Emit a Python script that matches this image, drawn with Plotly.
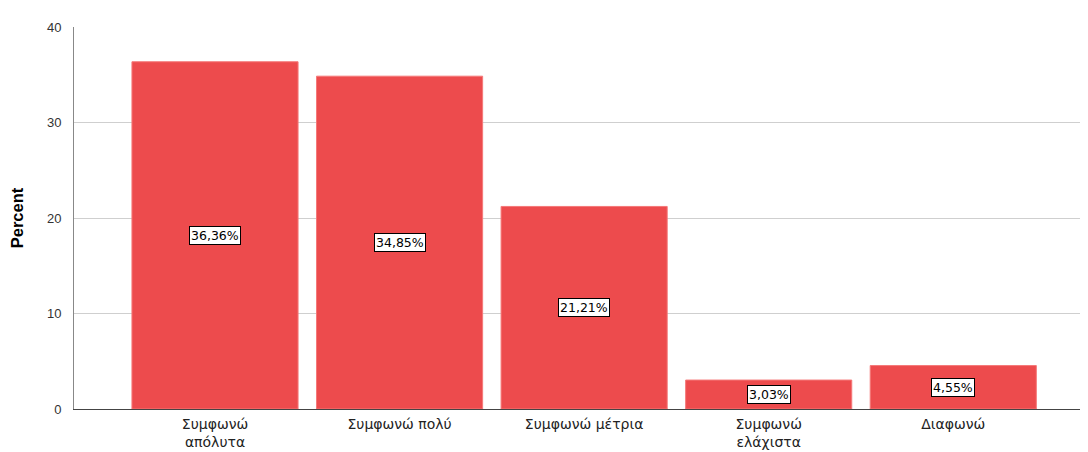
import plotly.graph_objects as go

categories = ["Συμφωνώ<br>απόλυτα", "Συμφωνώ πολύ", "Συμφωνώ μέτρια", "Συμφωνώ<br>ελάχιστα", "Διαφωνώ"]
percent = [36.36, 34.85, 21.21, 3.03, 4.55]
y_ticks = [0, 10, 20, 30, 40]

bar_color = "rgb(237,75,77)"
labels = [f"{v:.2f}".replace(".", ",") + "%" for v in percent]

fig = go.Figure()
fig.add_trace(go.Bar(
    x=list(range(len(categories))), y=percent,
    width=0.9,
    marker=dict(color=bar_color, line=dict(color="rgb(245,120,120)", width=1)),
    hoverinfo="skip",
))

for i, (v, t) in enumerate(zip(percent, labels)):
    fig.add_annotation(
        x=i, y=v / 2, text=t, showarrow=False,
        font=dict(family="DejaVu Sans", size=12.5, color="black"),
        bgcolor="white", bordercolor="black", borderwidth=1, borderpad=1,
    )

# the page body has an 8px margin, so the figure is shifted by 8px
fig.update_layout(
    width=1080, height=444,
    margin=dict(l=66, r=0, t=19, b=43),
    plot_bgcolor="white", paper_bgcolor="white",
    showlegend=False,
    font=dict(family="Liberation Sans, Arial", color="#222"),
    xaxis=dict(
        range=[-0.764, 4.73], automargin=False,
        tickmode="array", tickvals=list(range(len(categories))), ticktext=categories,
        tickfont=dict(family="DejaVu Sans", size=14, color="#222"),
        showgrid=False, showline=True, linecolor="#444", linewidth=1,
        ticks="", zeroline=False, ticklabelstandoff=2,
    ),
    yaxis=dict(
        range=[0, 40], tickvals=y_ticks, automargin=False,
        tickfont=dict(size=13, color="#333"),
        showgrid=True, gridcolor="#cfcfcf", gridwidth=1,
        showline=True, linecolor="#888", linewidth=1,
        ticks="", ticklen=0, zeroline=False, ticklabelstandoff=9,
        title=dict(text="<b>Percent</b>", font=dict(size=16.5, color="black"), standoff=22),
    ),
)

fig.write_html("out.html")
